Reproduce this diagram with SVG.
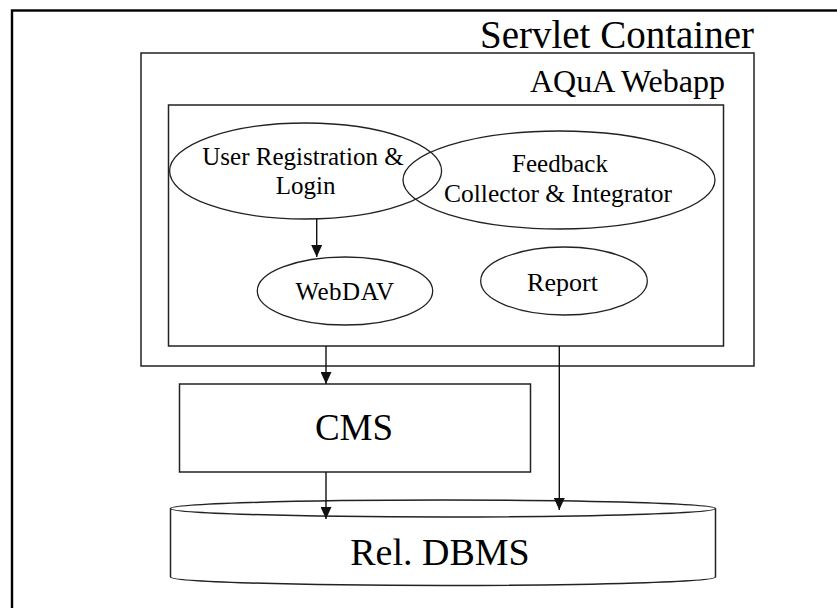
<svg xmlns="http://www.w3.org/2000/svg" width="837" height="608" viewBox="0 0 837 608" font-family="'Liberation Serif', 'DejaVu Serif', 'Times New Roman', serif">
  <style>
    .box { fill: none; stroke: #222; stroke-width: 1.5; }
    .ell { fill: none; stroke: #222; stroke-width: 1.3; }
    text { font-family: 'Liberation Serif', 'DejaVu Serif', 'Times New Roman', serif; fill: #000; }
    .conn { stroke: #111; stroke-width: 1.4; fill: none; marker-end: url(#arr); }
  </style>
  <defs>
    <marker id="arr" viewBox="0 0 12 11" refX="12" refY="5.5" markerWidth="12" markerHeight="11" markerUnits="userSpaceOnUse" orient="auto">
      <path d="M0,0 L12,5.5 L0,11 Z" fill="#111"/>
    </marker>
  </defs>
  <rect width="837" height="608" fill="#fff"/>
  <rect x="12" y="10.5" width="900" height="700" fill="none" stroke="#000" stroke-width="2.4"/>

  <g id="servlet-container">
    <rect class="box" x="141" y="53" width="613" height="313"/>
    <text x="754" y="48" font-size="39" text-anchor="end" font-family="Liberation Serif, serif">Servlet Container</text>
  </g>
  <g id="aqua-webapp">
    <text x="725" y="92" font-size="32" text-anchor="end" font-family="Liberation Serif, serif">AQuA Webapp</text>
    <rect class="box" x="168.5" y="105" width="555" height="241"/>
  </g>
  <g id="user-registration">
    <ellipse class="ell" cx="305.6" cy="171" rx="136" ry="48"/>
    <text x="303" y="165" font-size="25" text-anchor="middle" font-family="Liberation Serif, serif">User Registration &amp;</text>
    <text x="305.6" y="193.5" font-size="25" text-anchor="middle" font-family="Liberation Serif, serif">Login</text>
  </g>
  <g id="feedback">
    <ellipse class="ell" cx="559" cy="180" rx="156" ry="49"/>
    <text x="560" y="171.5" font-size="25" text-anchor="middle" font-family="Liberation Serif, serif">Feedback</text>
    <text x="558" y="201.5" font-size="25.5" text-anchor="middle" font-family="Liberation Serif, serif">Collector &amp; Integrator</text>
  </g>
  <g id="webdav">
    <ellipse class="ell" cx="345" cy="291" rx="87.7" ry="34"/>
    <text x="345" y="299.5" font-size="25" text-anchor="middle" letter-spacing="0.5" font-family="Liberation Serif, serif">WebDAV</text>
  </g>
  <g id="report">
    <ellipse class="ell" cx="564" cy="281" rx="83.3" ry="34"/>
    <text x="562.5" y="290.5" font-size="26" text-anchor="middle" font-family="Liberation Serif, serif">Report</text>
  </g>
  <g id="cms">
    <rect class="box" x="179.5" y="384" width="351" height="88" fill="#fff"/>
    <text x="354" y="440" font-size="37" text-anchor="middle" font-family="Liberation Serif, serif">CMS</text>
  </g>
  <g id="rel-dbms">
    <path class="box" d="M170.5,508.5 V577 A272.5,8.5 0 0 0 715.5,577 V508.5"/>
    <ellipse class="box" cx="443" cy="508.5" rx="272.5" ry="8.5"/>
    <text x="440" y="565" font-size="38" text-anchor="middle" font-family="Liberation Serif, serif">Rel. DBMS</text>
  </g>

  <g id="connectors">
    <line class="conn" x1="316.7" y1="219" x2="316.7" y2="257"/>
    <line class="conn" x1="326" y1="346" x2="326" y2="384"/>
    <line class="conn" x1="326" y1="472" x2="326" y2="519"/>
    <line class="conn" x1="559.3" y1="346" x2="559.3" y2="510"/>
  </g>
</svg>
